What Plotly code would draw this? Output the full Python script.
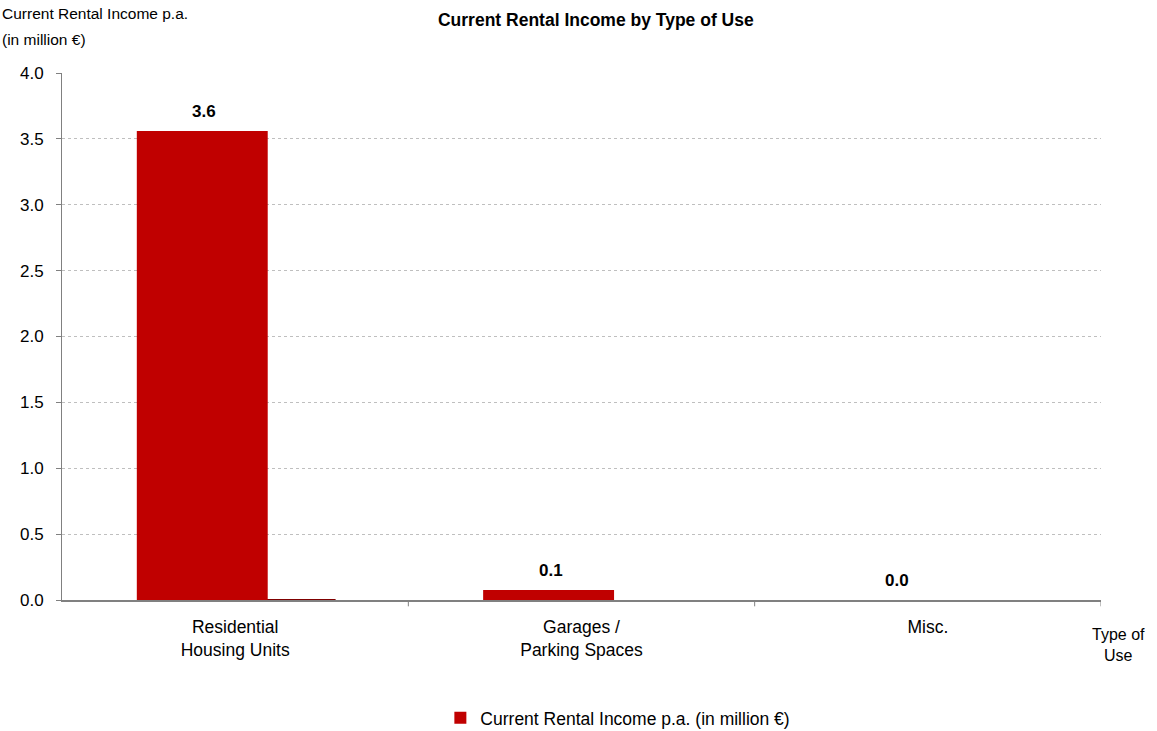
import plotly.graph_objects as go

categories = ["Residential<br>Housing Units", "Garages /<br>Parking Spaces", "Misc."]
income = [3.56, 0.075, 0.0]
labels = ["3.6", "0.1", "0.0"]
secondary = [0.006, 0.0, 0.0]

FONT = "Liberation Sans, Arial, sans-serif"

fig = go.Figure()
fig.add_trace(go.Bar(
    x=categories, y=secondary, name="other", showlegend=False,
    marker=dict(color="#7F0000", line=dict(width=0)),
    offset=-0.097, width=0.387, hoverinfo="skip",
))
fig.add_trace(go.Bar(
    x=categories, y=income, name="Current Rental Income p.a. (in million €)",
    marker=dict(color="#C00000", line=dict(width=0)),
    offset=-0.284, width=0.378,
))

annotations = []
for c, v, t in zip(categories, income, labels):
    annotations.append(dict(
        x=c, y=v, xref="x", yref="y", text=f"<b>{t}</b>", showarrow=False,
        xanchor="center", yanchor="bottom", xshift=-31, yshift=8,
        font=dict(size=17, family=FONT, color="black"),
    ))

annotations += [
    dict(text="Current Rental Income p.a.", xref="paper", yref="paper",
         x=-62/1039, y=1 + 70/527, xanchor="left", yanchor="top", align="left",
         showarrow=False, font=dict(size=15.5)),
    dict(text="(in million €)", xref="paper", yref="paper",
         x=-62/1039, y=1 + 70/527 - 26/527, xanchor="left", yanchor="top", align="left",
         showarrow=False, font=dict(size=15.5)),
    dict(text="Type of<br>Use", xref="paper", yref="paper",
         x=1.017, y=-0.046, xanchor="center", yanchor="top", align="center",
         showarrow=False, font=dict(size=16)),
]

fig.update_layout(
    width=1157, height=731,
    margin=dict(l=62, r=56, t=73, b=131, autoexpand=False),
    plot_bgcolor="white", paper_bgcolor="white",
    font=dict(family=FONT, size=17, color="black"),
    barmode="overlay",
    title=dict(text="<b>Current Rental Income by Type of Use</b>", x=0.515, xanchor="center",
               y=0.981, yanchor="top", font=dict(size=17.5, family=FONT)),
    showlegend=True,
    legend=dict(orientation="h", x=0.535, xanchor="center", yref="container", y=0.018,
                yanchor="middle", font=dict(size=17.5, family=FONT), itemwidth=30),
    xaxis=dict(
        range=[-0.5, 2.5], showline=True, linecolor="#808080", linewidth=1.5,
        ticks="", showgrid=False, tickfont=dict(size=17.5), ticklabelstandoff=10,
    ),
    yaxis=dict(
        range=[0, 4.0], dtick=0.5, tickformat=".1f", showline=True, linecolor="#808080",
        linewidth=1, ticks="outside", ticklen=5, tickcolor="#808080",
        showgrid=True, gridcolor="#BFBFBF", griddash="dot", gridwidth=1,
        zeroline=False, tickfont=dict(size=17), ticklabelstandoff=9,
    ),
    annotations=annotations,
)

# tick marks at category boundaries
for b in [0.5, 1.5, 2.5]:
    fig.add_shape(type="line", xref="x", yref="paper", x0=b, x1=b, y0=0, y1=-0.012,
                  line=dict(color="#808080", width=1))

fig.write_html("out.html")
